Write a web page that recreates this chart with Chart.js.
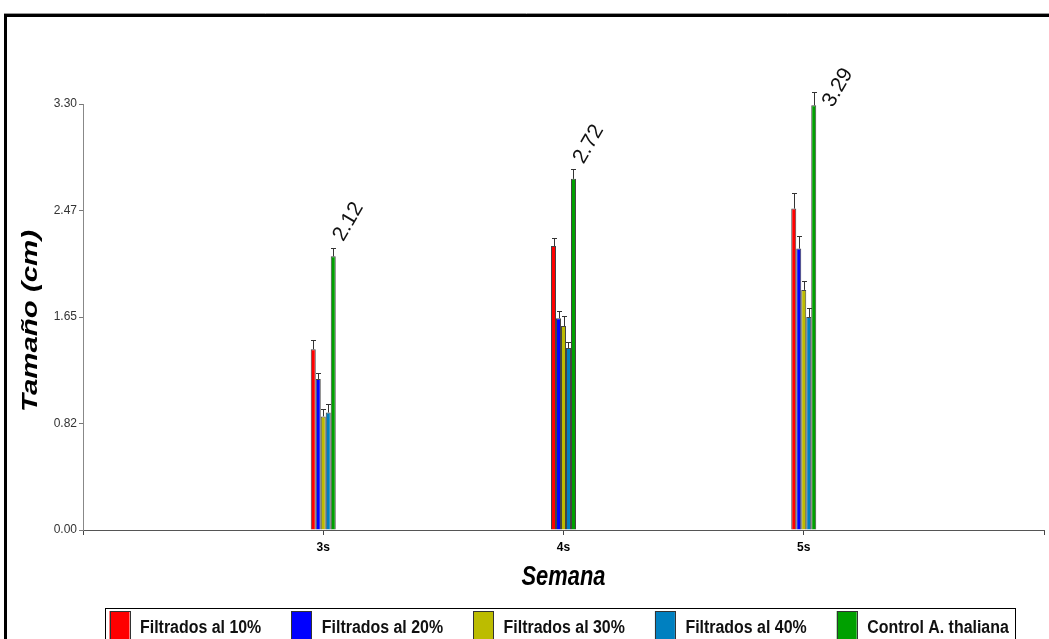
<!DOCTYPE html>
<html>
<head>
<meta charset="utf-8">
<script src="https://cdn.jsdelivr.net/npm/chart.js@4.4.0/dist/chart.umd.min.js"></script>
<style>
    html, body { margin: 0; padding: 0; background: #fff; }
    #wrap { position: relative; width: 1049px; height: 639px; }
</style>
</head>
<body>
<div id="wrap"><canvas id="chart"></canvas></div>
<script>
// data
const weeks = ['', '3s', '4s', '5s', '']
const seriesNames = ['Filtrados al 10%', 'Filtrados al 20%', 'Filtrados al 30%', 'Filtrados al 40%', 'Control A. thaliana']
const filtrados10 = [null, 1.40, 2.20, 2.49, null]
const filtrados20 = [null, 1.17, 1.64, 2.18, null]
const filtrados30 = [null, 0.88, 1.58, 1.86, null]
const filtrados40 = [null, 0.91, 1.41, 1.65, null]
const controlThaliana = [null, 2.12, 2.72, 3.29, null]
// upper error bars
const err10 = [null, 0.075, 0.065, 0.12, null]
const err20 = [null, 0.05, 0.06, 0.10, null]
const err30 = [null, 0.06, 0.08, 0.07, null]
const err40 = [null, 0.065, 0.05, 0.07, null]
const errControl = [null, 0.065, 0.08, 0.10, null]
const yTickValues = [0, 0.825, 1.65, 2.475, 3.30]
const yTickLabels = ['0.00', '0.82', '1.65', '2.47', '3.30']
const xTitle = 'Semana'
const yTitle = 'Tamaño (cm)'

const colors = ['#ff0000', '#0000ff', '#bcbc00', '#0080c0', '#00a000']
const narrow = '"Liberation Sans Narrow", "Arial Narrow", "Liberation Sans", Arial, sans-serif'
const sans = '"Liberation Sans", Arial, sans-serif'

const values = [filtrados10, filtrados20, filtrados30, filtrados40, controlThaliana]
const errors = [err10, err20, err30, err40, errControl]

// draw text squeezed/stretched to a given width
function drawFitted(ctx, text, x, y, width) {
    const w = ctx.measureText(text).width
    ctx.save()
    ctx.translate(x, y)
    ctx.scale(width / w, 1)
    ctx.fillText(text, 0, 0)
    ctx.restore()
}

const framePlugin = {
    id: 'frame',
    beforeDraw(chart) {
        const ctx = chart.ctx
        ctx.save()
        ctx.fillStyle = '#fff'
        ctx.fillRect(0, 0, chart.width, chart.height)
        ctx.strokeStyle = '#999'
        ctx.lineWidth = 1
        ctx.beginPath()
        ctx.moveTo(4, 13.5)
        ctx.lineTo(chart.width, 13.5)
        ctx.stroke()
        ctx.strokeStyle = '#000'
        ctx.lineWidth = 3
        ctx.beginPath()
        ctx.moveTo(chart.width, 15.5)
        ctx.lineTo(5.5, 15.5)
        ctx.lineTo(5.5, chart.height)
        ctx.stroke()
        ctx.restore()
    },
}

const extrasPlugin = {
    id: 'extras',
    afterDatasetsDraw(chart) {
        const ctx = chart.ctx
        const y = chart.scales.y
        const area = chart.chartArea
        ctx.save()
        // error bars
        ctx.strokeStyle = '#333'
        ctx.lineWidth = 1
        chart.data.datasets.forEach((ds, di) => {
            const meta = chart.getDatasetMeta(di)
            meta.data.forEach((bar, i) => {
                const v = ds.data[i]
                if (v === null) return
                const top = Math.round(y.getPixelForValue(v + errors[di][i])) + 0.5
                const cx = Math.round(bar.x) + 0.5
                ctx.beginPath()
                ctx.moveTo(cx, bar.y)
                ctx.lineTo(cx, top)
                ctx.moveTo(cx - 2.5, top)
                ctx.lineTo(cx + 2.5, top)
                ctx.stroke()
            })
        })
        // value labels on the control bars
        const last = chart.data.datasets.length - 1
        const meta = chart.getDatasetMeta(last)
        ctx.fillStyle = '#111'
        ctx.font = '21px ' + sans
        ctx.textAlign = 'left'
        ctx.textBaseline = 'alphabetic'
        meta.data.forEach((bar, i) => {
            const v = chart.data.datasets[last].data[i]
            if (v === null) return
            let lx = bar.x + 10
            let ly = bar.y - 14
            if (bar.y - area.top < 4) {
                lx = bar.x + 19
                ly = bar.y + 3
            }
            ctx.save()
            ctx.translate(lx, ly)
            ctx.rotate(-Math.PI / 3)
            ctx.fillText(v.toFixed(2), 0, 0)
            ctx.restore()
        })
        ctx.restore()
    },
    afterDraw(chart) {
        const ctx = chart.ctx
        const area = chart.chartArea
        ctx.save()
        ctx.fillStyle = '#000'
        // axis titles
        ctx.textAlign = 'left'
        ctx.textBaseline = 'alphabetic'
        ctx.font = 'bold italic 28px ' + sans
        drawFitted(ctx, xTitle, (area.left + area.right) / 2 - 42, 585, 84)
        ctx.save()
        ctx.translate(37, 321)
        ctx.rotate(-Math.PI / 2)
        ctx.font = 'bold italic 22px ' + sans
        drawFitted(ctx, yTitle, -91, 0, 182)
        ctx.restore()
        // legend box
        ctx.strokeStyle = '#000'
        ctx.lineWidth = 1
        ctx.strokeRect(105.5, 608.5, 910, 60)
        ctx.font = 'bold 18px ' + sans
        chart.data.datasets.forEach((ds, i) => {
            const bx = 109.5 + i * 181.8
            ctx.fillStyle = ds.backgroundColor
            ctx.fillRect(bx, 611, 20, 32)
            ctx.strokeStyle = '#333'
            ctx.strokeRect(Math.round(bx) + 0.5, 611.5, 20, 32)
            ctx.fillStyle = '#111'
            const w = ctx.measureText(ds.label).width * 0.885
            drawFitted(ctx, ds.label, bx + 30.5, 633, w)
        })
        ctx.restore()
    },
}

const datasets = values.map((data, i) => ({
    label: seriesNames[i],
    data: data,
    backgroundColor: colors[i],
    borderColor: '#444',
    borderWidth: 1,
    categoryPercentage: 0.104,
    barPercentage: 1,
}))

new Chart(document.getElementById('chart'), {
    type: 'bar',
    data: { labels: weeks, datasets: datasets },
    options: {
        responsive: true,
        maintainAspectRatio: false,
        animation: false,
        devicePixelRatio: 1,
        layout: { padding: { top: 104, right: 0, bottom: 44, left: 0 } },
        plugins: {
            legend: { display: false },
            tooltip: { enabled: false },
        },
        scales: {
            x: {
                offset: false,
                grid: {
                    offset: false,
                    drawOnChartArea: false,
                    tickLength: 5,
                    color: '#444',
                },
                border: { color: '#555', width: 1 },
                ticks: {
                    autoSkip: false,
                    maxRotation: 0,
                    padding: 5,
                    color: '#000',
                    font: { family: narrow, size: 12, weight: 'bold' },
                },
                afterFit(scale) {
                    scale.height = 65
                },
            },
            y: {
                min: 0,
                max: 3.30,
                afterBuildTicks(scale) {
                    scale.ticks = yTickValues.map(v => ({ value: v }))
                },
                grid: {
                    drawOnChartArea: false,
                    tickLength: 4,
                    color: '#777',
                },
                border: { color: '#888', width: 1 },
                ticks: {
                    padding: 2,
                    color: '#333',
                    font: { family: narrow, size: 12 },
                    callback: (v, i) => yTickLabels[i],
                },
                afterFit(scale) {
                    scale.width = 83
                },
            },
        },
    },
    plugins: [framePlugin, extrasPlugin],
})
</script>
</body>
</html>
